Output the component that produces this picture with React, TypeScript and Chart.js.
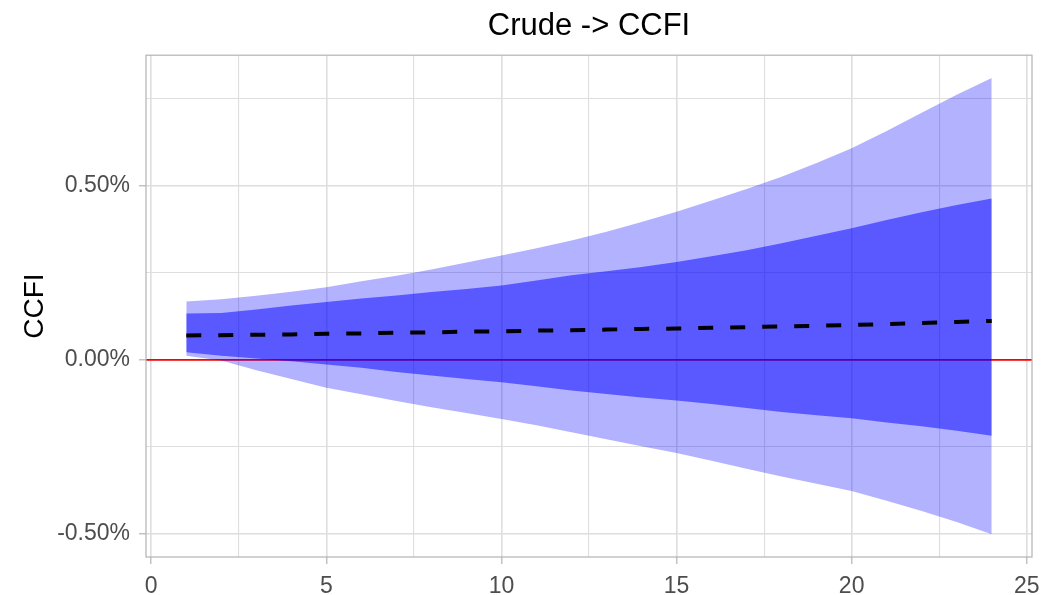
import { useEffect, useRef } from 'react';
import { Chart, registerables } from 'chart.js';

Chart.register(...registerables);

// Horizon (periods after the shock)
const horizons = [1, 2, 3, 4, 5, 6, 7, 8, 9, 10, 11, 12, 13, 14, 15, 16, 17, 18, 19, 20, 21, 22, 23, 24];

// Impulse response of CCFI to Crude (in %)
const irfMean = [0.070, 0.071, 0.072, 0.073, 0.075, 0.076, 0.078, 0.079, 0.081, 0.082, 0.084, 0.085, 0.087, 0.089, 0.090, 0.092, 0.094, 0.096, 0.098, 0.100, 0.103, 0.106, 0.109, 0.112];

// Inner (68%) band
const upper68 = [0.133, 0.135, 0.145, 0.156, 0.166, 0.176, 0.185, 0.195, 0.204, 0.214, 0.228, 0.243, 0.255, 0.267, 0.281, 0.298, 0.315, 0.335, 0.357, 0.378, 0.402, 0.424, 0.445, 0.464];
const lower68 = [0.022, 0.012, 0.004, -0.004, -0.013, -0.023, -0.035, -0.045, -0.055, -0.064, -0.076, -0.088, -0.098, -0.108, -0.117, -0.127, -0.138, -0.150, -0.159, -0.168, -0.180, -0.191, -0.204, -0.218];

// Outer (95%) band
const upper95 = [0.168, 0.174, 0.184, 0.196, 0.209, 0.226, 0.242, 0.260, 0.280, 0.300, 0.321, 0.343, 0.368, 0.396, 0.426, 0.458, 0.491, 0.526, 0.566, 0.608, 0.658, 0.710, 0.762, 0.810];
const lower95 = [0.012, -0.002, -0.030, -0.055, -0.080, -0.099, -0.118, -0.136, -0.153, -0.170, -0.188, -0.208, -0.228, -0.248, -0.268, -0.290, -0.313, -0.335, -0.356, -0.377, -0.405, -0.434, -0.466, -0.501];

// Axis ticks (major + minor grid positions)
const xTicks = [0, 2.5, 5, 7.5, 10, 12.5, 15, 17.5, 20, 22.5, 25];
const xMajorStep = 5;
const yTicks = [-0.5, -0.25, 0, 0.25, 0.5, 0.75];
const yMajorStep = 0.5;

// ggplot-like 5% expansion of the data range
const xLo = Math.min(...horizons);
const xHi = Math.max(...horizons);
const X_MIN = xLo - (xHi - xLo) * 0.05;
const X_MAX = xHi + (xHi - xLo) * 0.05;
const yLo = Math.min(...lower95);
const yHi = Math.max(...upper95);
const Y_MIN = yLo - (yHi - yLo) * 0.05;
const Y_MAX = yHi + (yHi - yLo) * 0.05;

const zeroLine = [X_MIN, X_MAX];

const isMajor = (v: number, step: number) => Math.abs(v / step - Math.round(v / step)) < 1e-9;

const toPts = (ys: number[]) => horizons.map((x, i) => ({ x, y: ys[i] }));

const framePlugin = {
  id: 'panelFrame',
  afterDatasetsDraw(chart: any) {
    const { ctx, chartArea: a } = chart;
    ctx.save();
    ctx.strokeStyle = '#B3B3B3';
    ctx.lineWidth = 1.2;
    ctx.strokeRect(a.left, a.top, a.right - a.left, a.bottom - a.top);
    ctx.restore();
  },
};

export default function App() {
  const ref = useRef<HTMLCanvasElement>(null);

  useEffect(() => {
    Chart.defaults.font.family = '"Liberation Sans", Arial, sans-serif';
    const chart = new Chart(ref.current as HTMLCanvasElement, {
      type: 'line',
      data: {
        datasets: [
          {
            label: 'IRF',
            data: toPts(irfMean),
            borderColor: '#000000',
            borderWidth: 4,
            borderDash: [15, 17],
            borderCapStyle: 'butt',
            pointRadius: 0,
            fill: false,
            tension: 0,
            order: 0,
          },
          {
            label: 'upper68',
            data: toPts(upper68),
            borderWidth: 0,
            borderColor: 'rgba(0,0,0,0)',
            backgroundColor: 'rgba(0,0,255,0.5)',
            pointRadius: 0,
            fill: '+1',
            tension: 0,
            order: 1,
          },
          {
            label: 'lower68',
            data: toPts(lower68),
            borderWidth: 0,
            borderColor: 'rgba(0,0,0,0)',
            pointRadius: 0,
            fill: false,
            tension: 0,
            order: 1,
          },
          {
            label: 'upper95',
            data: toPts(upper95),
            borderWidth: 0,
            borderColor: 'rgba(0,0,0,0)',
            backgroundColor: 'rgba(0,0,255,0.3)',
            pointRadius: 0,
            fill: '+1',
            tension: 0,
            order: 2,
          },
          {
            label: 'lower95',
            data: toPts(lower95),
            borderWidth: 0,
            borderColor: 'rgba(0,0,0,0)',
            pointRadius: 0,
            fill: false,
            tension: 0,
            order: 2,
          },
          {
            label: 'zero',
            data: zeroLine.map((x) => ({ x, y: 0 })),
            borderColor: '#FF0000',
            borderWidth: 1.6,
            pointRadius: 0,
            fill: false,
            tension: 0,
            order: 3,
          },
        ],
      },
      options: {
        animation: false,
        responsive: true,
        maintainAspectRatio: false,
        layout: { padding: { left: 0, right: 11, top: 0, bottom: 0 } },
        plugins: {
          legend: { display: false },
          tooltip: { enabled: false },
          title: {
            display: true,
            text: 'Crude -> CCFI',
            color: '#000000',
            fullSize: false,
            font: { size: 31, weight: 'normal' },
            padding: { top: 8, bottom: 10 },
          },
        },
        scales: {
          x: {
            type: 'linear',
            min: X_MIN,
            max: X_MAX,
            afterBuildTicks: (s: any) => {
              s.ticks = xTicks.map((v) => ({ value: v }));
            },
            afterFit: (s: any) => {
              s.height = 38;
              s.paddingLeft = 0;
              s.paddingRight = 0;
            },
            border: { display: false },
            grid: {
              color: '#DEDEDE',
              lineWidth: (c: any) => (isMajor(c.tick.value, xMajorStep) ? 1.6 : 1.1),
              tickLength: 7,
              tickWidth: 1.2,
              tickColor: (c: any) => (isMajor(c.tick.value, xMajorStep) ? '#B3B3B3' : 'rgba(0,0,0,0)'),
            },
            ticks: {
              autoSkip: false,
              maxRotation: 0,
              color: '#4D4D4D',
              font: { size: 23 },
              padding: 9,
              callback: (v: any) => (isMajor(Number(v), xMajorStep) ? String(v) : ''),
            },
          },
          y: {
            type: 'linear',
            min: Y_MIN,
            max: Y_MAX,
            afterBuildTicks: (s: any) => {
              s.ticks = yTicks.map((v) => ({ value: v }));
            },
            afterFit: (s: any) => {
              s.width = 146;
            },
            border: { display: false },
            grid: {
              color: '#DEDEDE',
              lineWidth: (c: any) => (isMajor(c.tick.value, yMajorStep) ? 1.6 : 1.1),
              tickLength: 7,
              tickWidth: 1.2,
              tickColor: (c: any) => (isMajor(c.tick.value, yMajorStep) ? '#B3B3B3' : 'rgba(0,0,0,0)'),
            },
            ticks: {
              autoSkip: false,
              color: '#4D4D4D',
              font: { size: 23 },
              padding: 9,
              callback: (v: any) => (isMajor(Number(v), yMajorStep) ? Number(v).toFixed(2) + '%' : ''),
            },
            title: {
              display: true,
              text: 'CCFI',
              color: '#000000',
              font: { size: 28 },
              padding: { top: 18, bottom: 0 },
            },
          },
        },
      },
      plugins: [framePlugin],
    } as any);
    return () => chart.destroy();
  }, []);

  return (
    <div style={{ position: 'fixed', left: 0, top: 0, width: 1043, height: 595, background: '#ffffff' }}>
      <canvas ref={ref} />
    </div>
  );
}
